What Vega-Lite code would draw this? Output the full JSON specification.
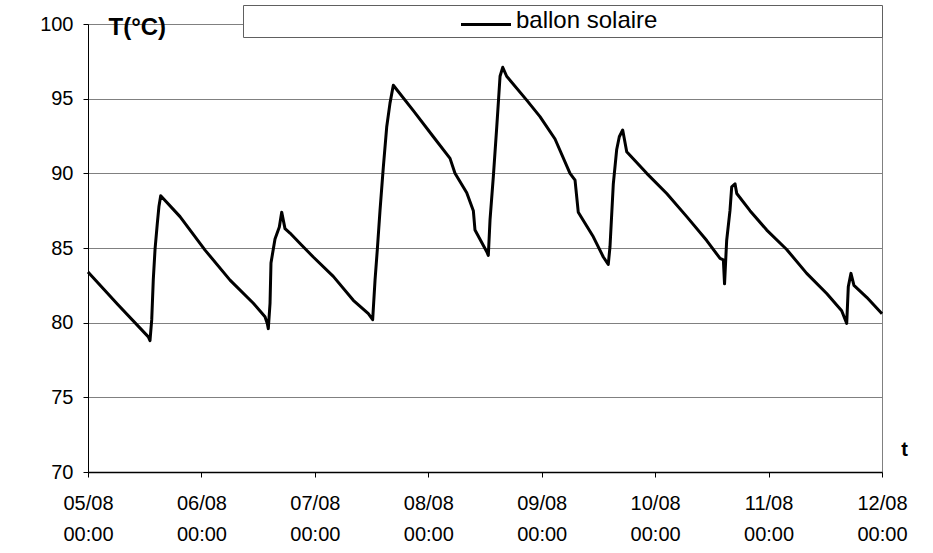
{
  "$schema": "https://vega.github.io/schema/vega-lite/v6.json",
  "autosize": "none",
  "width": 794,
  "height": 448,
  "padding": {"left": 88, "top": 24, "right": 51, "bottom": 81},
  "background": "white",
  "config": {
    "font": "Liberation Sans",
    "view": {"stroke": "#808080", "strokeWidth": 1}
  },
  "data": {
    "values": [
      {"t": "2003-08-05T00:00", "temp": 83.4},
      {"t": "2003-08-05T06:21", "temp": 81.2},
      {"t": "2003-08-05T12:46", "temp": 79.05},
      {"t": "2003-08-05T13:07", "temp": 78.8},
      {"t": "2003-08-05T13:29", "temp": 80.2},
      {"t": "2003-08-05T13:49", "temp": 82.9},
      {"t": "2003-08-05T14:11", "temp": 84.9},
      {"t": "2003-08-05T14:40", "temp": 86.65},
      {"t": "2003-08-05T15:01", "temp": 87.8},
      {"t": "2003-08-05T15:23", "temp": 88.5},
      {"t": "2003-08-05T19:28", "temp": 87.1},
      {"t": "2003-08-06T00:46", "temp": 84.86},
      {"t": "2003-08-06T06:03", "temp": 82.85},
      {"t": "2003-08-06T10:59", "temp": 81.3},
      {"t": "2003-08-06T13:27", "temp": 80.4},
      {"t": "2003-08-06T13:56", "temp": 79.95},
      {"t": "2003-08-06T14:09", "temp": 79.6},
      {"t": "2003-08-06T14:31", "temp": 81.3},
      {"t": "2003-08-06T14:43", "temp": 84.0},
      {"t": "2003-08-06T15:34", "temp": 85.6},
      {"t": "2003-08-06T16:29", "temp": 86.4},
      {"t": "2003-08-06T16:59", "temp": 87.4},
      {"t": "2003-08-06T17:41", "temp": 86.3},
      {"t": "2003-08-06T18:44", "temp": 86.0},
      {"t": "2003-08-06T20:52", "temp": 85.3},
      {"t": "2003-08-06T23:40", "temp": 84.4},
      {"t": "2003-08-07T03:54", "temp": 83.1},
      {"t": "2003-08-07T08:08", "temp": 81.5},
      {"t": "2003-08-07T11:19", "temp": 80.6},
      {"t": "2003-08-07T12:14", "temp": 80.2},
      {"t": "2003-08-07T12:44", "temp": 82.85},
      {"t": "2003-08-07T13:13", "temp": 84.9},
      {"t": "2003-08-07T13:47", "temp": 87.5},
      {"t": "2003-08-07T14:29", "temp": 90.4},
      {"t": "2003-08-07T15:12", "temp": 93.1},
      {"t": "2003-08-07T15:54", "temp": 94.7},
      {"t": "2003-08-07T16:36", "temp": 95.9},
      {"t": "2003-08-07T20:50", "temp": 94.2},
      {"t": "2003-08-08T01:04", "temp": 92.45},
      {"t": "2003-08-08T04:36", "temp": 91.0},
      {"t": "2003-08-08T05:39", "temp": 90.0},
      {"t": "2003-08-08T08:08", "temp": 88.7},
      {"t": "2003-08-08T09:32", "temp": 87.5},
      {"t": "2003-08-08T09:53", "temp": 86.2},
      {"t": "2003-08-08T12:22", "temp": 84.75},
      {"t": "2003-08-08T12:42", "temp": 84.5},
      {"t": "2003-08-08T13:04", "temp": 86.9},
      {"t": "2003-08-08T13:46", "temp": 89.8},
      {"t": "2003-08-08T14:29", "temp": 93.1},
      {"t": "2003-08-08T14:49", "temp": 94.7},
      {"t": "2003-08-08T15:11", "temp": 96.5},
      {"t": "2003-08-08T15:45", "temp": 97.1},
      {"t": "2003-08-08T16:35", "temp": 96.5},
      {"t": "2003-08-08T20:49", "temp": 94.9},
      {"t": "2003-08-08T23:38", "temp": 93.8},
      {"t": "2003-08-09T02:49", "temp": 92.3},
      {"t": "2003-08-09T05:59", "temp": 90.0},
      {"t": "2003-08-09T07:03", "temp": 89.55},
      {"t": "2003-08-09T07:44", "temp": 87.4},
      {"t": "2003-08-09T10:55", "temp": 85.75},
      {"t": "2003-08-09T13:02", "temp": 84.4},
      {"t": "2003-08-09T14:05", "temp": 83.9},
      {"t": "2003-08-09T14:27", "temp": 85.1},
      {"t": "2003-08-09T15:09", "temp": 89.3},
      {"t": "2003-08-09T15:52", "temp": 91.6},
      {"t": "2003-08-09T16:25", "temp": 92.45},
      {"t": "2003-08-09T17:08", "temp": 92.9},
      {"t": "2003-08-09T17:59", "temp": 91.45},
      {"t": "2003-08-09T22:13", "temp": 90.0},
      {"t": "2003-08-10T02:27", "temp": 88.65},
      {"t": "2003-08-10T06:41", "temp": 87.1},
      {"t": "2003-08-10T10:55", "temp": 85.5},
      {"t": "2003-08-10T13:44", "temp": 84.3},
      {"t": "2003-08-10T14:26", "temp": 84.2},
      {"t": "2003-08-10T14:41", "temp": 82.6},
      {"t": "2003-08-10T15:08", "temp": 85.5},
      {"t": "2003-08-10T15:50", "temp": 87.5},
      {"t": "2003-08-10T16:12", "temp": 89.1},
      {"t": "2003-08-10T16:54", "temp": 89.3},
      {"t": "2003-08-10T17:16", "temp": 88.65},
      {"t": "2003-08-10T20:04", "temp": 87.5},
      {"t": "2003-08-10T23:37", "temp": 86.2},
      {"t": "2003-08-11T03:50", "temp": 84.9},
      {"t": "2003-08-11T08:04", "temp": 83.3},
      {"t": "2003-08-11T12:18", "temp": 81.95},
      {"t": "2003-08-11T15:28", "temp": 80.8},
      {"t": "2003-08-11T16:32", "temp": 79.95},
      {"t": "2003-08-11T16:52", "temp": 82.4},
      {"t": "2003-08-11T17:26", "temp": 83.3},
      {"t": "2003-08-11T18:04", "temp": 82.5},
      {"t": "2003-08-11T20:46", "temp": 81.7},
      {"t": "2003-08-12T00:00", "temp": 80.6}
    ]
  },
  "mark": {"type": "line", "strokeWidth": 3, "strokeJoin": "round", "interpolate": "linear"},
  "encoding": {
    "x": {
      "field": "t",
      "type": "temporal",
      "scale": {
        "domain": [
          {"year": 2003, "month": 8, "date": 5},
          {"year": 2003, "month": 8, "date": 12}
        ],
        "nice": false
      },
      "axis": {
        "values": [
          {"year": 2003, "month": 8, "date": 5},
          {"year": 2003, "month": 8, "date": 6},
          {"year": 2003, "month": 8, "date": 7},
          {"year": 2003, "month": 8, "date": 8},
          {"year": 2003, "month": 8, "date": 9},
          {"year": 2003, "month": 8, "date": 10},
          {"year": 2003, "month": 8, "date": 11},
          {"year": 2003, "month": 8, "date": 12}
        ],
        "labelExpr": "[timeFormat(datum.value, '%d/%m'), timeFormat(datum.value, '%H:%M')]",
        "labelFontSize": 20,
        "labelColor": "black",
        "labelLineHeight": 31,
        "labelPadding": 16,
        "labelBaseline": "top",
        "labelAlign": "center",
        "labelFlush": false,
        "labelOverlap": false,
        "tickSize": 5,
        "tickColor": "black",
        "domainColor": "black",
        "domainWidth": 1.5,
        "grid": false,
        "title": "t",
        "titleFontSize": 20,
        "titleFontWeight": "bold",
        "titleColor": "black",
        "titleX": 816,
        "titleY": -17,
        "titleAlign": "center",
        "titleBaseline": "alphabetic",
        "titleAngle": 0
      }
    },
    "y": {
      "field": "temp",
      "type": "quantitative",
      "scale": {"domain": [70, 100], "nice": false, "zero": false},
      "axis": {
        "values": [70, 75, 80, 85, 90, 95, 100],
        "labelFontSize": 20,
        "labelColor": "black",
        "labelPadding": 10,
        "tickSize": 5,
        "tickColor": "black",
        "domainColor": "black",
        "domainWidth": 1,
        "grid": true,
        "gridColor": "#808080",
        "gridWidth": 1,
        "title": "T(°C)",
        "titleFontSize": 24,
        "titleFontWeight": "bold",
        "titleColor": "black",
        "titleAngle": 0,
        "titleX": 20,
        "titleY": 10,
        "titleAlign": "left",
        "titleBaseline": "alphabetic"
      }
    },
    "color": {
      "datum": "ballon solaire",
      "type": "nominal",
      "scale": {"range": ["black"]},
      "legend": {
        "title": null,
        "orient": "none",
        "legendX": 155,
        "legendY": -19,
        "strokeColor": "#606060",
        "fillColor": "white",
        "padding": 4,
        "symbolType": "M-5,0.7H5",
        "symbolSize": 100,
        "symbolStrokeWidth": 3,
        "symbolOffset": 227,
        "labelFontSize": 24,
        "labelColor": "black",
        "labelOffset": 18,
        "labelLimit": 1000,
        "labelExpr": "datum.label + '\u00a0\u00a0\u00a0\u00a0\u00a0\u00a0\u00a0\u00a0\u00a0\u00a0\u00a0\u00a0\u00a0\u00a0\u00a0\u00a0\u00a0\u00a0\u00a0\u00a0\u00a0\u00a0\u00a0\u00a0\u00a0\u00a0\u00a0\u00a0\u00a0\u00a0\u00a0\u00a0\u00a0\u200b'"
      }
    }
  }
}
